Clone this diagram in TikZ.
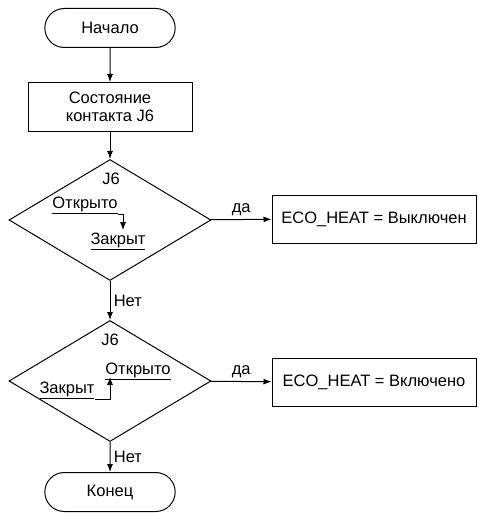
\documentclass[tikz,border=0pt]{standalone}
\usepackage{fontspec}
\setmainfont{Liberation Sans}
\usetikzlibrary{shapes.geometric}
\usetikzlibrary{shapes.misc}
\usetikzlibrary{positioning, arrows.meta}

\begin{document}
\begin{tikzpicture}[x=1pt, y=-1pt, line width=1pt, font=\fontsize{16.5}{18}\selectfont]
        % Define styles for shapes
        \tikzstyle{terminal} = [draw, rounded rectangle, minimum width=137pt, minimum height=39pt]
        \tikzstyle{block} = [draw, minimum width=204pt, minimum height=48pt, align=center]
        \tikzstyle{rhombus} = [draw, diamond, minimum width=202pt, minimum height=121pt, inner sep=0pt]
        \tikzstyle{label} = [inner sep=0pt]
        \tikzstyle{flow} = [-{Latex[length=8pt, width=6pt]}]
        \useasboundingbox (0,0) rectangle (478,513);
        % Draw shapes
        \node[terminal] (start) at (110, 28) {Начало};
        \node[block, minimum width=164pt, minimum height=49pt] (state) at (110, 107) {Состояние\\контакта J6};
        \node[rhombus] (check1) at (110, 220) {};
        \node[label] (pin1) at (111, 179) {J6};
        \node[label] (open1) at (85, 205) {\underline{Открыто}};
        \node[label] (closed1) at (118, 241) {\underline{Закрыт}};
        \node[block] (off) at (374, 219) {ECO\_HEAT = Выключен};
        \node[rhombus] (check2) at (110, 381) {};
        \node[label] (pin2) at (110, 340) {J6};
        \node[label] (open2) at (138, 371) {\underline{Открыто}};
        \node[label] (closed2) at (67, 390) {\underline{Закрыт}};
        \node[block] (on) at (374, 382) {ECO\_HEAT = Включено};
        \node[terminal] (stop) at (110, 492) {Конец};
        \coordinate (tip1) at (123, 230);
        \coordinate (tip2) at (110, 377);

        % Draw arrows
        \draw[flow] (start) -- (state);
        \draw[flow] (state) -- (check1);
        \draw[flow] (check1) -- (off) node[midway, above] {да};
        \draw[flow] (check1) -- (check2) node[midway, right] {Нет};
        \draw[flow] (check2) -- (on) node[midway, above] {да};
        \draw[flow] (check2) -- (stop) node[midway, right] {Нет};
        \draw[flow, line width=0.8pt] (open1.south east) -| (tip1);
        \draw[flow, line width=0.8pt] (closed2.south east) -| (tip2);
    \end{tikzpicture}
\end{document}
